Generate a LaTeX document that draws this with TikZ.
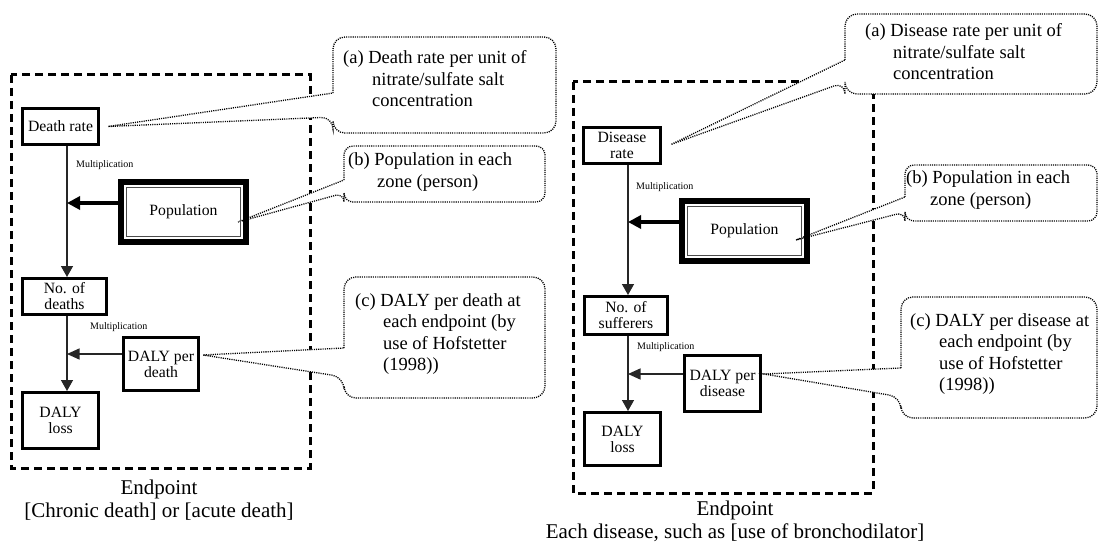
\documentclass[tikz,border=0pt]{standalone}
\usepackage{fontspec}
\setmainfont{Liberation Serif}
\usetikzlibrary{arrows.meta}
\pgfdeclarelayer{frames}
\pgfdeclarelayer{notes}
\pgfsetlayers{frames,notes,main}

% lines of a note; the first line sits on the node's base anchor
\newcommand\notetext[1]{\begin{tabular}[t]{@{}l@{}}#1\end{tabular}}
% dotted speech bubble: left, top, right, bottom, pointer base top, pointer base bottom, corner radius, pointer tip
\newcommand\notebubble[8]{%
  \path[noteline] (#1,#5) [rounded corners=#7] -- (#1,#2) -- (#3,#2) -- (#3,#4) -- (#1,#4) -- (#1,#6) [sharp corners] -- #8 -- cycle;}

\begin{document}
\begin{tikzpicture}[x=1pt,y=-1pt,
  box/.style={draw, line width=3pt, inner sep=1pt, align=center, font=\fontsize{15.7}{16}\selectfont},
  popbox/.style={draw, line width=6pt, inner sep=1pt, minimum width=125pt, minimum height=60pt, font=\fontsize{15.7}{16}\selectfont},
  endframe/.style={line width=3pt, dash pattern=on 8pt off 5pt},
  flow/.style={draw=black!85, line width=1.4pt, -{Triangle[length=11pt,width=12pt]}},
  feed/.style={draw=black!85, line width=1.4pt, -{Triangle[length=12.5pt,width=11pt]}},
  bigfeed/.style={line width=4.5pt, -{Triangle[length=13pt,width=13pt]}},
  mult/.style={font=\fontsize{10}{12}\selectfont, inner sep=0pt, anchor=west},
  note/.style={font=\fontsize{18.5}{21.5}\selectfont, inner sep=0pt, anchor=base west},
  noteline/.style={draw=black, fill=white, line width=1.3pt, dash pattern=on 1.1pt off 1.1pt},
  endlabel/.style={font=\fontsize{21}{23}\selectfont, align=center, inner sep=0pt},
]
\useasboundingbox (0,0) rectangle (1099,545);

% ---------- chronic / acute death chain ----------
\coordinate (spL) at (67,0);
\node[box, minimum width=76pt, minimum height=36pt] (dr) at (60.5,126.5) {Death rate};
\node[popbox] (pop) at (183.5,212) {Population};
\node[box, minimum width=84pt, minimum height=36pt] (nd) at (64.5,296.5) {No. of\\deaths};
\node[box, minimum width=75pt, minimum height=53pt] (dp) at (161,364) {DALY per\\death};
\node[box, minimum width=76pt, minimum height=56pt] (dl) at (60.5,420.5) {DALY\\loss};
\draw[line width=1pt, black!70] ([shift={(8.5pt,-8.5pt)}]pop.north west) rectangle ([shift={(-8.5pt,8.5pt)}]pop.south east);

\node[mult] (m1) at (76,165.5) {Multiplication};
\node[mult] (m2) at (90,327) {Multiplication};

\draw[flow] (dr.south -| spL) -- (nd.north -| spL);
\draw[flow] (nd.south -| spL) -- (dl.north -| spL);
\draw[bigfeed] ([yshift=9pt]pop.west) -- ([yshift=9pt]pop.west -| spL);
\draw[feed] ([yshift=10pt]dp.west) -- ([yshift=10pt]dp.west -| spL);

\node[endlabel] (endL) at (159,500.5) {Endpoint\\{}[Chronic death] or [acute death]};

% ---------- disease chain ----------
\coordinate (spR) at (628,0);
\node[box, minimum width=77pt, minimum height=36pt] (drR) at (622,145.5) {Disease\\rate};
\node[popbox] (popR) at (744.5,231) {Population};
\node[box, minimum width=83pt, minimum height=38pt] (nsR) at (626,315.5) {No. of\\sufferers};
\node[box, minimum width=76pt, minimum height=56pt] (dpR) at (722.5,383.5) {DALY per\\disease};
\node[box, minimum width=76pt, minimum height=53pt] (dlR) at (622.5,439) {DALY\\loss};
\draw[line width=1pt, black!70] ([shift={(8.5pt,-8.5pt)}]popR.north west) rectangle ([shift={(-8.5pt,8.5pt)}]popR.south east);

\node[mult] (m3) at (636,187) {Multiplication};
\node[mult] (m4) at (637,347) {Multiplication};

\draw[flow] (drR.south -| spR) -- (nsR.north -| spR);
\draw[flow] (nsR.south -| spR) -- (dlR.north -| spR);
\draw[bigfeed] ([yshift=9pt]popR.west) -- ([yshift=9pt]popR.west -| spR);
\draw[feed] ([yshift=9.5pt]dpR.west) -- ([yshift=9.5pt]dpR.west -| spR);

\node[endlabel] (endR) at (735,521.5) {Endpoint\\Each disease, such as [use of bronchodilator]};

% ---------- notes ----------
\node[note] (na) at (343,64) {\notetext{(a) Death rate per unit of\\\hspace*{29pt}nitrate/sulfate salt\\\hspace*{29pt}concentration}};
\node[note] (nb) at (348,166) {\notetext{(b) Population in each\\\hspace*{29pt}zone (person)}};
\node[note] (nc) at (355,306) {\notetext{(c) DALY per death at\\\hspace*{28pt}each endpoint (by\\\hspace*{28pt}use of Hofstetter\\\hspace*{28pt}(1998))}};
\node[note] (naR) at (865,37) {\notetext{(a) Disease rate per unit of\\\hspace*{28pt}nitrate/sulfate salt\\\hspace*{28pt}concentration}};
\node[note] (nbR) at (906,184) {\notetext{(b) Population in each\\\hspace*{24pt}zone (person)}};
\node[note] (ncR) at (910,326) {\notetext{(c) DALY per disease at\\\hspace*{29pt}each endpoint (by\\\hspace*{29pt}use of Hofstetter\\\hspace*{29pt}(1998))}};

% ---------- endpoint frames ----------
\begin{pgfonlayer}{frames}
  \draw[endframe] (11,75) rectangle (310,468);
  \draw[endframe] (573,82) rectangle (873,493);
\end{pgfonlayer}

% ---------- note bubbles ----------
\begin{pgfonlayer}{notes}
  \notebubble{333}{37}{556}{133}{93}{117}{12pt}{([xshift=8pt]dr.east)}
  \notebubble{344}{146}{545}{202}{180}{193}{9pt}{([shift={(-11pt,-10pt)}]pop.east)}
  \notebubble{344}{277}{545}{398}{348}{377}{12pt}{([shift={(3pt,9pt)}]dp.east)}
  \notebubble{845}{14}{1097}{94}{60}{82}{12pt}{([shift={(9pt,1pt)}]drR.east)}
  \notebubble{905}{165}{1097}{221}{197}{212}{9pt}{([shift={(-14pt,-9pt)}]popR.east)}
  \notebubble{901}{297}{1097}{418}{368}{397}{12pt}{([shift={(2pt,9.5pt)}]dpR.east)}
\end{pgfonlayer}
\end{tikzpicture}
\end{document}
